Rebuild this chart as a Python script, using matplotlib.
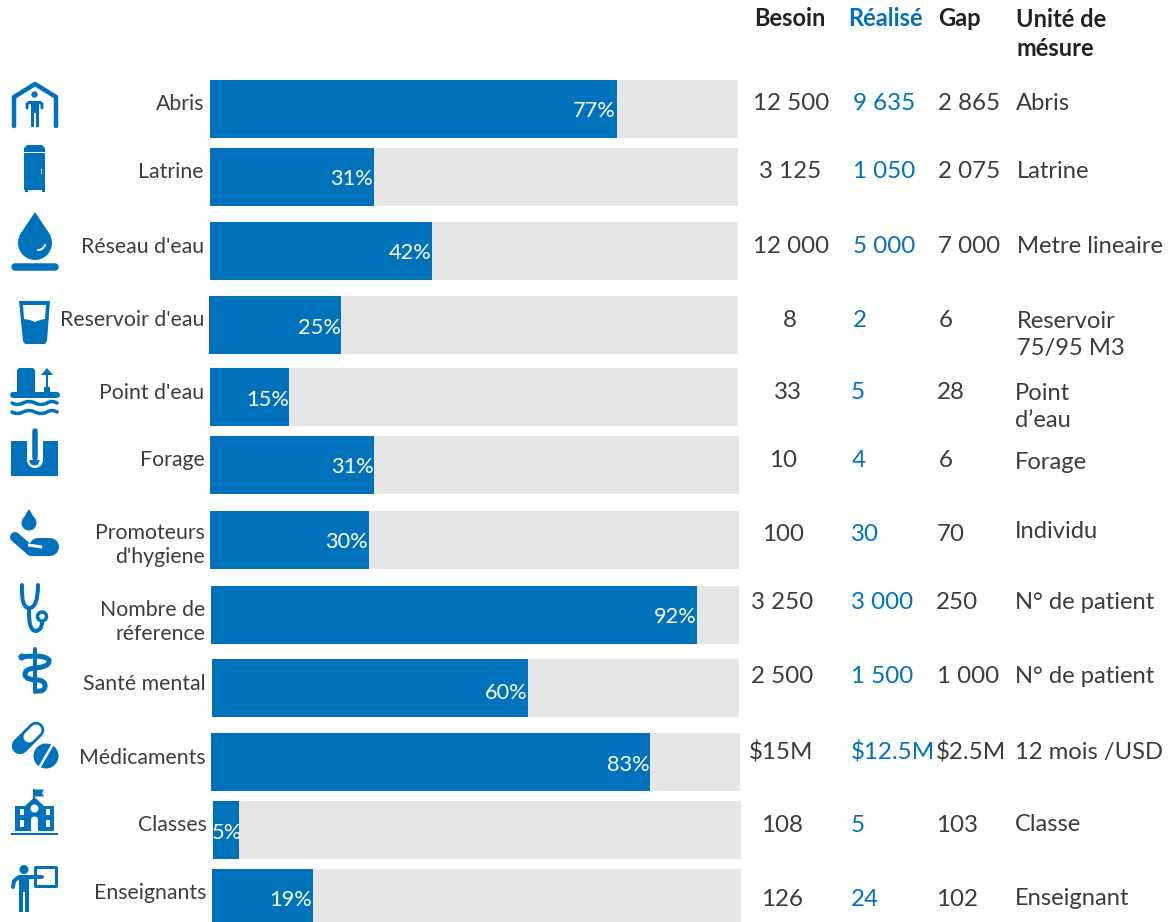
import matplotlib
matplotlib.use("Agg")
import matplotlib.pyplot as plt
from matplotlib.patches import Circle, Polygon, PathPatch, Rectangle
from matplotlib.path import Path

plt.rcParams['font.family'] = ['Lato', 'Open Sans', 'DejaVu Sans']

BLUE = '#0072BC'
GREY = '#E5E6E5'
DARK = '#3C3C3C'
BLACK = '#222222'

labels = ['Abris', 'Latrine', "Réseau d'eau", "Reservoir d'eau", "Point d'eau", 'Forage',
          "Promoteurs\nd'hygiene", 'Nombre de\nréference', 'Santé mental', 'Médicaments',
          'Classes', 'Enseignants']
pct = [77, 31, 42, 25, 15, 31, 30, 92, 60, 83, 5, 19]
besoin = ['12 500', '3 125', '12 000', '8', '33', '10', '100', '3 250', '2 500', '$15M', '108', '126']
realise = ['9 635', '1 050', '5 000', '2', '5', '4', '30', '3 000', '1 500', '$12.5M', '5', '24']
gap = ['2 865', '2 075', '7 000', '6', '28', '6', '70', '250', '1 000', '$2.5M', '103', '102']
unite = ['Abris', 'Latrine', 'Metre lineaire', 'Reservoir\n75/95 M3', 'Point\nd’eau', 'Forage',
         'Individu', 'N° de patient', 'N° de patient', '12 mois /USD', 'Classe', 'Enseignant']

# layout, in pixels of the picture
bar_left = [210, 210, 210, 209, 210, 210, 210, 211, 212, 211, 213, 212]
bar_right = [738, 738, 738, 738, 738, 739, 739, 739, 739, 740, 741, 741]
bar_top = [80, 148, 222, 296, 368, 436, 511, 586, 659, 733, 801, 869]
bar_bottom = [138, 206, 280, 354, 426, 494, 569, 644, 717, 791, 859, 922]
label_x = [204, 204, 204, 204, 204, 205, 205, 205, 206, 206, 207, 206]
label_y = [104, 172, 247, 320, 393, 460, 545, 622, 684, 758, 825, 893]
pct_y = [111, 179, 253, 328, 400, 467, 542, 617, 693, 765, 833, 900]
num_y = [104, 172, 246, 320, 392, 460, 534, 602, 676, 752, 825, 899]
besoin_x = [791, 790, 791, 790, 788, 783, 783, 782, 782, 781, 782, 782]
realise_x = [884, 884, 884, 860, 858, 859, 865, 882, 882, 893, 858, 865]
gap_x = [969, 969, 969, 946, 951, 946, 951, 957, 968, 971, 957, 957]
unit_x = [1016, 1017, 1017, 1017, 1015, 1015, 1015, 1015, 1015, 1015, 1015, 1015]
unit_y = [104, 172, 246, 335, 407, 462, 531, 602, 676, 752, 824, 898]

fig = plt.figure(figsize=(11.69, 9.22), dpi=100)
ax = fig.add_axes([0, 0, 1, 1])
ax.set_xlim(0, 1169)
ax.set_ylim(922, 0)
ax.axis('off')

for i in range(len(labels)):
    w = bar_right[i] - bar_left[i]
    h = bar_bottom[i] - bar_top[i]
    mid = (bar_top[i] + bar_bottom[i]) / 2
    ax.barh(mid, w, height=h, left=bar_left[i], color=GREY, linewidth=0)
    ax.barh(mid, w * pct[i] / 100, height=h, left=bar_left[i], color=BLUE, linewidth=0)
    end = bar_left[i] + w * pct[i] / 100
    ax.text(end - 0.5 + (3 if pct[i] == 5 else 0), pct_y[i], '%d%%' % pct[i], color='white',
            fontsize=15.7, ha='right', va='center')
    ax.text(label_x[i], label_y[i], labels[i], color=DARK, fontsize=15.3, ha='right',
            va='center', linespacing=1.3)
    ax.text(besoin_x[i], num_y[i], besoin[i], color=DARK, fontsize=17.4, ha='center', va='center')
    ax.text(realise_x[i], num_y[i], realise[i], color=BLUE, fontsize=17.4, ha='center', va='center')
    ax.text(gap_x[i], num_y[i], gap[i], color=DARK, fontsize=17.4, ha='center', va='center')
    ax.text(unit_x[i], unit_y[i], unite[i], color=DARK, fontsize=17.1, ha='left', va='center',
            linespacing=1.38)

ax.text(754, 19, 'Besoin', color=BLACK, fontsize=17, fontweight='bold', va='center')
ax.text(848, 19, 'Réalisé', color=BLUE, fontsize=17, fontweight='bold', va='center')
ax.text(938, 19, 'Gap', color=BLACK, fontsize=17, fontweight='bold', va='center')
ax.text(1016, 34, 'Unité de\nmésure', color=BLACK, fontsize=17, fontweight='bold', va='center',
        linespacing=1.33)


# icons
PX = 72 / 100


def line(pts, lw, color=BLUE, cap='round', join='round'):
    ax.plot([p[0] for p in pts], [p[1] for p in pts], color=color, lw=lw * PX,
            solid_capstyle=cap, solid_joinstyle=join)


def fill(pts, color=BLUE):
    ax.add_patch(Polygon(pts, closed=True, fc=color, ec='none'))


def box(x0, y0, x1, y1, color=BLUE):
    ax.add_patch(Rectangle((x0, y0), x1 - x0, y1 - y0, fc=color, ec='none'))


def dot(x, y, r, color=BLUE):
    ax.add_patch(Circle((x, y), r, fc=color, ec='none'))


def curve(pts, lw, color=BLUE):
    # pts: start then pairs of control / end points
    codes = [Path.MOVETO] + [Path.CURVE3] * (len(pts) - 1)
    ax.add_patch(PathPatch(Path(pts, codes), fc='none', ec=color, lw=lw * PX, capstyle='round'))


# Abris
line([(14, 126), (14, 97), (35, 84), (56, 97), (56, 126)], 4.5)
dot(34.5, 94.5, 3.2)
line([(27, 108), (27, 104), (29, 102.5), (40, 102.5), (42, 104), (42, 108)], 3)
fill([(31, 102), (39, 102), (39, 127), (36, 127), (36, 113), (34, 113), (34, 127), (31, 127)])

# Latrine
fill([(24, 152), (24, 148), (27, 145), (42, 145), (45, 148), (45, 152)])
box(24, 153.5, 45, 190)
box(24.5, 190, 27.5, 192.5)
box(41.5, 190, 44.5, 192.5)
box(40.5, 169, 42, 174, 'white')

# Réseau d'eau
dot(35, 243, 17)
fill([(35, 212), (19, 236), (51, 236)])
curve([(38, 250), (43, 250), (45, 245)], 2, 'white')
line([(14.5, 267), (54.5, 267)], 7.5)

# Reservoir d'eau
fill([(19, 301), (50, 301), (47, 341), (45, 344), (25, 344), (23, 341)])
fill([(23, 305), (46, 305), (45, 319), (40, 320), (35, 322), (30, 320), (24, 319)], 'white')

# Point d'eau
fill([(17, 392), (17, 370), (19, 368), (33, 368), (35, 370), (35, 392)])
box(44, 387, 50, 393)
line([(47, 372), (47, 388)], 2)
fill([(41, 375), (47, 368), (53, 375)])
line([(12.5, 395), (56.5, 395)], 6)
for wy in [403, 412]:
    curve([(12, wy), (17, wy + 3), (23, wy), (29, wy - 3), (35, wy), (41, wy + 3), (47, wy), (52, wy - 3), (57, wy)], 3.5)

# Forage
box(11, 441, 58, 476)
line([(35, 441), (35, 460)], 16, 'white', cap='butt')
dot(35, 460, 8, 'white')
line([(34.7, 431), (34.7, 458)], 5.5)
dot(34.5, 460.5, 5)

# Promoteurs d'hygiene
dot(29, 523, 7.5)
fill([(29, 509), (22.5, 520), (35.5, 520)])
line([(15, 537), (31, 551), (50, 551)], 10)
line([(38, 547), (50, 547)], 18)
line([(28, 545), (42, 547)], 3, 'white', cap='butt')

# Nombre de référence
curve([(22, 585), (21, 608), (29, 608), (38, 608), (38, 585)], 4)
curve([(29, 608), (28, 631), (36, 631), (42, 630), (42, 622)], 4)
ax.add_patch(Circle((42, 616.5), 4.5, fc='white', ec=BLUE, lw=3.5 * PX))

# Santé mental
line([(35, 649), (35, 692)], 4)
curve([(21, 657), (44, 654), (49, 660), (50, 667), (35, 668), (24, 669), (25, 675),
       (26, 680), (38, 680), (46, 681), (45, 687), (44, 692), (36, 691)], 5)
dot(22, 657, 3.5)

# Médicaments
line([(20, 746), (36, 730)], 16.5)
line([(29, 737), (36, 730)], 11, 'white')
dot(46, 756, 12.5)
line([(39, 768), (53, 744)], 2.5, 'white', cap='butt')

# Classes
box(11, 832.5, 58, 835)
box(15, 806, 54, 831)
fill([(34.5, 797), (24, 807), (45, 807)])
line([(33.5, 789), (33.5, 800)], 2, cap='butt')
fill([(34, 789.5), (44, 789.5), (42, 793), (44, 796.5), (34, 796.5)])
dot(34.5, 808.5, 4, 'white')
for wx in [20, 46]:
    box(wx, 809, wx + 4, 815, 'white')
    box(wx, 820, wx + 4, 827, 'white')
box(31, 820, 38, 831, 'white')
dot(34.5, 820, 3.5, 'white')

# Enseignants
dot(24, 869.5, 4.5)
ax.add_patch(Rectangle((34.5, 866.5), 21.5, 19, fc='none', ec=BLUE, lw=3 * PX, joinstyle='round'))
line([(13, 887), (14, 881), (19, 877), (42, 877)], 4)
fill([(18.5, 876), (28.5, 876), (28.5, 912), (24.5, 912), (24.5, 892), (22.5, 892), (22.5, 912), (18.5, 912)])

fig.savefig('out.png', dpi=100)
